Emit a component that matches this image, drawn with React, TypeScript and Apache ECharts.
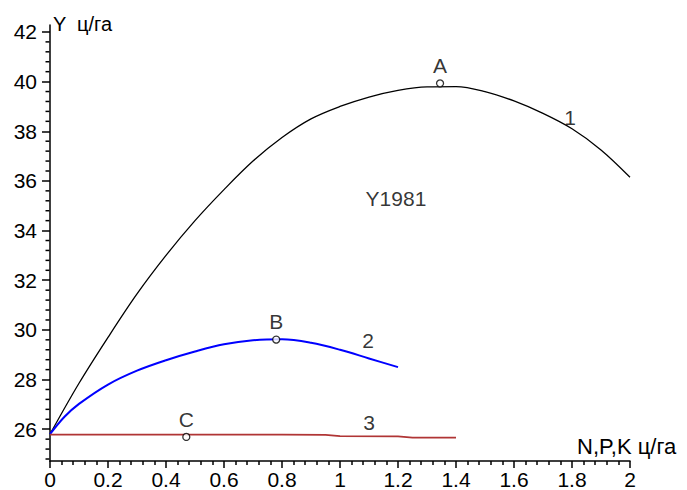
import React, { useEffect, useRef } from "react";
import * as echarts from "echarts";

// Curve 1 (black)
const x1 = [0, 0.1, 0.2, 0.3, 0.4, 0.5, 0.6, 0.7, 0.8, 0.9, 1.0, 1.1, 1.2, 1.3, 1.4, 1.5, 1.6, 1.7, 1.8, 1.9, 2.0];
const y1 = [25.8, 27.85, 29.7, 31.45, 33.0, 34.4, 35.65, 36.8, 37.75, 38.5, 39.0, 39.38, 39.65, 39.79, 39.8, 39.6, 39.22, 38.72, 38.1, 37.25, 36.15];
// Curve 2 (blue)
const x2 = [0, 0.05, 0.1, 0.2, 0.3, 0.4, 0.5, 0.6, 0.7, 0.8, 0.9, 1.0, 1.1, 1.2];
const y2 = [25.8, 26.5, 27.02, 27.8, 28.36, 28.78, 29.13, 29.42, 29.58, 29.62, 29.48, 29.2, 28.85, 28.5];
// Curve 3 (red)
const x3 = [0, 0.2, 0.4, 0.6, 0.8, 0.95, 1.0, 1.2, 1.25, 1.4];
const y3 = [25.78, 25.78, 25.78, 25.78, 25.78, 25.77, 25.72, 25.71, 25.66, 25.66];

// Marked points
const pointNames = ["A", "B", "C"];
const pointX = [1.345, 0.78, 0.47];
const pointY = [39.93, 29.61, 25.69];

// Text annotations (data coordinates)
const noteTexts = ["1", "2", "3", "Y1981"];
const noteX = [1.793, 1.097, 1.1, 1.193];
const noteY = [38.57, 29.59, 26.29, 35.31];

// Axis ticks
const yMin = 24.72;
const yMax = 42.28;
const yMajorTicks = [26, 28, 30, 32, 34, 36, 38, 40, 42];
const yMinorTicks: number[] = [];
for (let v = 24.8; v < 42.01; v += 0.4) {
  const r = Math.round(v * 10) / 10;
  if (Math.abs(r / 2 - Math.round(r / 2)) > 1e-6) yMinorTicks.push(r);
}

const FONT = "'Liberation Sans', Arial, sans-serif";

export default function App() {
  const ref = useRef<HTMLDivElement>(null);
  useEffect(() => {
    if (!ref.current) return;
    const chart = echarts.init(ref.current, null, { renderer: "svg" });
    const axisLineStyle = { color: "#000", width: 1.5 };
    const baseGraphics: any[] = [
      {
        type: "text",
        left: 53,
        top: 14,
        style: { text: "Y  ц/га", fontSize: 20, fill: "#000", fontFamily: FONT },
      },
      {
        type: "text",
        left: 577,
        top: 435,
        style: { text: "N,P,K ц/га", fontSize: 22, fill: "#000", fontFamily: FONT },
      },
    ];
    chart.setOption({
      animation: false,
      backgroundColor: "#fff",
      textStyle: { fontFamily: FONT },
      grid: { left: 50, right: 57, top: 25, bottom: 29, containLabel: false },
      xAxis: {
        type: "value",
        min: 0,
        max: 2,
        interval: 0.2,
        axisLine: { show: true, onZero: false, lineStyle: axisLineStyle },
        axisTick: { show: true, length: 7, lineStyle: axisLineStyle },
        minorTick: { show: true, splitNumber: 5, length: 4, lineStyle: { color: "#000", width: 1.5 } },
        splitLine: { show: false },
        minorSplitLine: { show: false },
        axisLabel: { fontSize: 21, color: "#000", fontFamily: FONT, margin: 8 },
      },
      yAxis: {
        type: "value",
        min: yMin,
        max: yMax,
        position: "left",
        axisLine: { show: true, onZero: false, lineStyle: axisLineStyle },
        axisTick: { show: true, length: 8, customValues: yMajorTicks, lineStyle: axisLineStyle },
        splitLine: { show: false },
        axisLabel: { fontSize: 21, color: "#000", fontFamily: FONT, margin: 13, customValues: yMajorTicks },
      },
      graphic: baseGraphics,
      series: [
        {
          type: "line",
          data: x1.map((x, i) => [x, y1[i]]),
          showSymbol: false,
          smooth: 0.35,
          lineStyle: { color: "#000", width: 1.3 },
          silent: true,
        },
        {
          type: "line",
          data: x2.map((x, i) => [x, y2[i]]),
          showSymbol: false,
          smooth: 0.35,
          lineStyle: { color: "#0000ff", width: 2 },
          silent: true,
        },
        {
          type: "line",
          data: x3.map((x, i) => [x, y3[i]]),
          showSymbol: false,
          smooth: false,
          lineStyle: { color: "#b03535", width: 1.8 },
          silent: true,
        },
        {
          type: "scatter",
          data: pointNames.map((n, i) => ({ name: n, value: [pointX[i], pointY[i]] })),
          symbol: "circle",
          symbolSize: 7,
          itemStyle: { color: "#fff", borderColor: "#000", borderWidth: 1.3 },
          label: {
            show: true,
            position: "top",
            distance: 3,
            formatter: (p: any) => p.name,
            fontSize: 21,
            color: "#000",
            fontFamily: FONT,
          },
          z: 5,
          silent: true,
        },
        {
          type: "scatter",
          data: noteTexts.map((n, i) => ({ name: n, value: [noteX[i], noteY[i]] })),
          symbolSize: 0,
          label: {
            show: true,
            position: "inside",
            formatter: (p: any) => p.name,
            fontSize: 21,
            color: "#000",
            fontFamily: FONT,
          },
          silent: true,
        },
      ],
    });

    // Minor ticks on the Y axis, positioned through the axis scale
    const x0 = chart.convertToPixel({ xAxisIndex: 0 }, 0) as number;
    const minorLines = yMinorTicks.map((v) => {
      const py = chart.convertToPixel({ yAxisIndex: 0 }, v) as number;
      return {
        type: "line",
        silent: true,
        shape: { x1: x0 - 4.5, y1: py, x2: x0 - 0.5, y2: py },
        style: { stroke: "#000", lineWidth: 1.5 },
      };
    });
    chart.setOption({ graphic: [...baseGraphics, ...minorLines] });

    return () => chart.dispose();
  }, []);
  return <div ref={ref} style={{ width: 687, height: 490, position: "absolute", left: 0, top: 0 }} />;
}
